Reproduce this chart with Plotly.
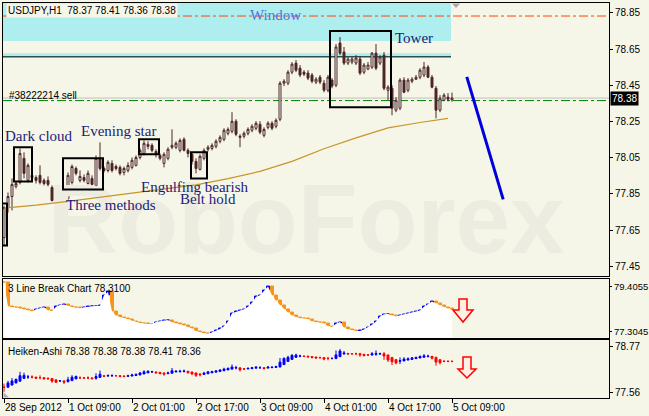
import plotly.graph_objects as go

# ---------------- data ----------------
tick_bars = [0, 16, 32, 48, 64, 80, 96, 112]
tick_labels = ["28 Sep 2012", "1 Oct 09:00", "2 Oct 01:00", "2 Oct 17:00",
               "3 Oct 09:00", "4 Oct 01:00", "4 Oct 17:00", "5 Oct 09:00"]
price_ticks = [78.85, 78.65, 78.45, 78.25, 78.05, 77.85, 77.65, 77.45]
lb_ticks = [79.4055, 77.3045]
ha_ticks = [78.77, 77.56]

opens = [77.609, 77.775, 77.836, 77.892, 77.914, 78.047, 77.925, 77.953, 77.941, 77.953,
         77.925, 77.925, 77.886, 77.831, 77.864, 77.853, 77.825, 77.914, 77.991, 77.925,
         77.941, 77.908, 77.936, 77.897, 78.047, 77.991, 77.980, 78.019, 78.002, 77.997,
         77.969, 77.980, 77.997, 78.008, 78.052, 78.074, 78.113, 78.119, 78.085, 78.063,
         78.019, 78.047, 78.108, 78.108, 78.091, 78.152, 78.091, 78.069, 78.030, 77.986,
         78.047, 78.097, 78.102, 78.113, 78.141, 78.152, 78.185, 78.196, 78.252, 78.169,
         78.169, 78.185, 78.202, 78.213, 78.235, 78.174, 78.218, 78.241, 78.224, 78.263,
         78.462, 78.462, 78.523, 78.573, 78.545, 78.523, 78.518, 78.507, 78.468, 78.495,
         78.462, 78.423, 78.479, 78.451, 78.684, 78.634, 78.573, 78.579, 78.573, 78.595,
         78.523, 78.540, 78.551, 78.628, 78.573, 78.617, 78.423, 78.434, 78.313, 78.324,
         78.479, 78.423, 78.473, 78.484, 78.495, 78.507, 78.551, 78.495, 78.434, 78.313,
         78.368, 78.385, 78.370]
highs = [77.786, 77.858, 77.936, 77.919, 78.102, 78.080, 78.019, 78.008, 77.953, 78.008,
         77.936, 77.947, 77.897, 77.842, 77.880, 77.869, 77.969, 78.013, 78.002, 77.980,
         77.958, 77.980, 77.953, 78.063, 78.135, 78.002, 78.036, 78.036, 78.013, 78.008,
         78.002, 78.025, 78.052, 78.063, 78.102, 78.146, 78.141, 78.130, 78.097, 78.074,
         78.080, 78.108, 78.207, 78.141, 78.157, 78.163, 78.102, 78.080, 78.047, 78.069,
         78.102, 78.119, 78.130, 78.152, 78.174, 78.213, 78.218, 78.302, 78.263, 78.180,
         78.196, 78.218, 78.235, 78.252, 78.252, 78.218, 78.252, 78.252, 78.268, 78.473,
         78.484, 78.534, 78.579, 78.590, 78.562, 78.534, 78.534, 78.518, 78.495, 78.507,
         78.479, 78.507, 78.490, 78.678, 78.717, 78.662, 78.606, 78.606, 78.617, 78.612,
         78.573, 78.579, 78.634, 78.678, 78.617, 78.634, 78.451, 78.451, 78.385, 78.490,
         78.495, 78.490, 78.495, 78.507, 78.545, 78.579, 78.562, 78.507, 78.446, 78.396,
         78.407, 78.407, 78.410]
lows = [77.565, 77.747, 77.759, 77.880, 77.903, 77.936, 77.914, 77.925, 77.908, 77.903,
        77.897, 77.892, 77.809, 77.803, 77.842, 77.775, 77.814, 77.903, 77.953, 77.914,
        77.914, 77.903, 77.892, 77.892, 77.980, 77.969, 77.969, 77.969, 77.980, 77.953,
        77.953, 77.969, 77.986, 78.002, 78.041, 78.063, 78.097, 78.080, 78.052, 78.036,
        77.997, 78.036, 78.097, 78.097, 78.080, 78.085, 78.052, 78.013, 77.964, 77.980,
        78.036, 78.085, 78.091, 78.102, 78.130, 78.141, 78.174, 78.185, 78.169, 78.108,
        78.157, 78.174, 78.191, 78.202, 78.180, 78.163, 78.207, 78.202, 78.213, 78.252,
        78.446, 78.451, 78.512, 78.523, 78.495, 78.501, 78.479, 78.462, 78.457, 78.457,
        78.412, 78.412, 78.434, 78.440, 78.617, 78.562, 78.562, 78.567, 78.562, 78.507,
        78.512, 78.534, 78.540, 78.534, 78.562, 78.423, 78.368, 78.285, 78.302, 78.313,
        78.407, 78.412, 78.462, 78.479, 78.484, 78.495, 78.490, 78.434, 78.268, 78.302,
        78.362, 78.362, 78.360]
closes = [77.775, 77.836, 77.903, 77.908, 78.074, 77.964, 78.008, 77.941, 77.925, 77.914,
          77.908, 77.903, 77.814, 77.814, 77.853, 77.803, 77.953, 78.002, 77.964, 77.947,
          77.925, 77.964, 77.903, 78.047, 77.991, 77.980, 78.025, 77.980, 77.991, 77.964,
          77.991, 78.008, 78.036, 78.052, 78.091, 78.130, 78.124, 78.091, 78.074, 78.047,
          78.069, 78.097, 78.119, 78.130, 78.146, 78.091, 78.074, 78.030, 77.991, 78.058,
          78.091, 78.108, 78.119, 78.141, 78.163, 78.202, 78.207, 78.252, 78.180, 78.163,
          78.185, 78.207, 78.224, 78.241, 78.191, 78.207, 78.241, 78.213, 78.257, 78.462,
          78.473, 78.523, 78.567, 78.534, 78.507, 78.512, 78.490, 78.473, 78.484, 78.468,
          78.423, 78.495, 78.446, 78.662, 78.628, 78.573, 78.595, 78.595, 78.601, 78.518,
          78.562, 78.562, 78.628, 78.545, 78.606, 78.434, 78.440, 78.324, 78.368, 78.479,
          78.412, 78.479, 78.484, 78.495, 78.534, 78.551, 78.495, 78.440, 78.313, 78.379,
          78.396, 78.374, 78.380]

ma_bars = [0, 8, 16, 24, 32, 40, 48, 56, 64, 72, 80, 88, 96, 104, 111]
ma_values = [77.772, 77.788, 77.809, 77.831, 77.857, 77.878, 77.900, 77.935, 77.975,
             78.030, 78.100, 78.160, 78.215, 78.245, 78.268]

lb_levels = [79.603, 78.462, 78.431, 78.401, 78.370, 78.325, 78.279, 78.233, 78.340, 78.385,
             78.431, 78.279, 78.248, 78.462, 78.538, 78.568, 78.492, 78.431, 78.401, 78.385,
             78.431, 78.462, 78.477, 78.492, 78.500, 78.994, 79.147, 78.233, 78.035, 77.974,
             77.929, 77.853, 77.792, 77.746, 77.700, 77.670, 77.655, 77.640, 77.746, 77.792,
             77.822, 77.830, 77.731, 77.685, 77.640, 77.579, 77.518, 77.442, 77.320, 77.274,
             77.213, 77.198, 77.274, 77.350, 77.426, 77.548, 77.776, 78.157, 78.233, 78.279,
             78.340, 78.462, 78.644, 78.918, 78.994, 79.223, 79.405, 78.994, 78.736, 78.538,
             78.340, 78.188, 78.035, 77.974, 77.929, 77.898, 77.883, 77.776, 77.731, 77.716,
             77.670, 77.548, 77.518, 77.670, 77.746, 77.472, 77.396, 77.365, 77.320, 77.335,
             77.396, 77.518, 77.624, 77.776, 78.005, 78.111, 78.120, 78.035, 78.005, 78.066,
             78.111, 78.157, 78.188, 78.248, 78.279, 78.462, 78.583, 78.705, 78.614, 78.522,
             78.431, 78.370, 78.310]

forecast_bars = [115.7, 124.8]
forecast_prices = [78.497, 77.82]

bars = list(range(len(closes)))

# Heiken-Ashi from the candles
ha_close = [(o + h + l + c) / 4 for o, h, l, c in zip(opens, highs, lows, closes)]
ha_open = [(opens[0] + closes[0]) / 2]
for i in range(1, len(bars)):
    ha_open.append((ha_open[i - 1] + ha_close[i - 1]) / 2)
ha_high = [max(h, o, c) for h, o, c in zip(highs, ha_open, ha_close)]
ha_low = [min(l, o, c) for l, o, c in zip(lows, ha_open, ha_close)]

# line break bricks
lb_base = [lb_levels[0]] + lb_levels[:-1]
lb_delta = [c - b for c, b in zip(lb_levels, lb_base)]
BLUE, ORANGE = "#0A0AEE", "#F7941D"
lb_colors = []
cur = ORANGE
for d in lb_delta:
    if d > 0:
        cur = BLUE
    elif d < 0:
        cur = ORANGE
    lb_colors.append(cur)

# ---------------- styling ----------------
BG = "#F6F6E8"
CANDLE = "#4B2626"
FONT = "Liberation Sans"
SERIF = "Liberation Serif"
NAVY = "#1C1C78"

W, H = 649, 416
L, R, T, B = 3, 40, 3, 18
PW, PH = W - L - R, H - T - B
xr = [-0.25, 151.25]


def P(px, py):
    return (px - L) / PW, (H - B - py) / PH


fig = go.Figure()

# watermark
fig.add_trace(go.Scatter(x=[75.5], y=[77.66], mode="text", text=["<b>RoboForex</b>"],
                         textfont=dict(family=FONT, size=98, color="#ECECE1"),
                         xaxis="x", yaxis="y", hoverinfo="skip", showlegend=False))
# moving average
fig.add_trace(go.Scatter(x=ma_bars, y=ma_values, mode="lines",
                         line=dict(color="#C8952A", width=1.2),
                         xaxis="x", yaxis="y", hoverinfo="skip", showlegend=False))
# candles
fig.add_trace(go.Candlestick(x=bars, open=opens, high=highs, low=lows, close=closes,
                             increasing=dict(line=dict(color=CANDLE, width=1), fillcolor="#FFFFFF"),
                             decreasing=dict(line=dict(color=CANDLE, width=1), fillcolor=CANDLE),
                             whiskerwidth=0, xaxis="x", yaxis="y",
                             hoverinfo="skip", showlegend=False))

# line break panel
fig.add_trace(go.Scatter(x=bars, y=lb_levels, mode="lines", fill="tozeroy",
                         fillcolor="#FFFFFF", line=dict(width=0),
                         xaxis="x2", yaxis="y2", hoverinfo="skip", showlegend=False))
fig.add_trace(go.Bar(x=bars, y=lb_delta, base=lb_base, width=0.75,
                     marker=dict(color=lb_colors, line=dict(color=lb_colors, width=1)),
                     xaxis="x2", yaxis="y2", hoverinfo="skip", showlegend=False))

# Heiken-Ashi panel
fig.add_trace(go.Candlestick(x=bars, open=ha_open, high=ha_high, low=ha_low, close=ha_close,
                             increasing=dict(line=dict(color="#0000FF", width=1), fillcolor="#0000FF"),
                             decreasing=dict(line=dict(color="#FF0000", width=1), fillcolor="#FF0000"),
                             whiskerwidth=0, xaxis="x3", yaxis="y3",
                             hoverinfo="skip", showlegend=False))

shapes = []
# window zone
shapes.append(dict(type="rect", xref="x", yref="y", x0=-0.25, x1=111.75, y0=78.695, y1=78.905,
                   fillcolor="#AFEEEE", line=dict(width=0), layer="below"))
shapes.append(dict(type="rect", xref="x", yref="y", x0=-0.25, x1=111.75, y0=78.612, y1=78.628,
                   fillcolor="#AFEEEE", line=dict(width=0), layer="below"))
shapes.append(dict(type="line", xref="x", yref="y", x0=-0.25, x1=111.75, y0=78.608, y1=78.608,
                   line=dict(color="#2F4F4F", width=1.5), layer="below"))
# horizontal levels
shapes.append(dict(type="line", xref="x", yref="y", x0=xr[0], x1=xr[1], y0=78.833, y1=78.833,
                   line=dict(color="#FF4500", width=1, dash="dashdot"), layer="below"))
shapes.append(dict(type="line", xref="x", yref="y", x0=xr[0], x1=xr[1], y0=78.38, y1=78.38,
                   line=dict(color="#C0C0C0", width=1), layer="below"))
shapes.append(dict(type="line", xref="x", yref="y", x0=xr[0], x1=xr[1], y0=78.366, y1=78.366,
                   line=dict(color="#008000", width=1, dash="dashdot"), layer="below"))
# pattern boxes
pattern_boxes = [(-0.9, 0.75, 77.565, 77.797), (2.5, 7.0, 77.919, 78.108),
                 (14.75, 24.75, 77.875, 78.047), (33.75, 38.75, 78.069, 78.152),
                 (46.75, 50.75, 77.936, 78.080), (81.5, 96.75, 78.329, 78.750)]
for x0, x1, y0, y1 in pattern_boxes:
    shapes.append(dict(type="rect", xref="x", yref="y", x0=x0, x1=x1, y0=y0, y1=y1,
                       line=dict(color="#000000", width=2), fillcolor="rgba(0,0,0,0)"))
# forecast
shapes.append(dict(type="line", xref="x", yref="y", x0=forecast_bars[0], x1=forecast_bars[1],
                   y0=forecast_prices[0], y1=forecast_prices[1],
                   line=dict(color="#0000DD", width=3)))


def path(points):
    s = "M " + " L ".join("%.5f,%.5f" % P(x, y) for x, y in points) + " Z"
    return s


shapes.append(dict(type="path", xref="paper", yref="paper",
                   path=path([(459, 299), (467, 299), (467, 310), (473, 310), (463, 322), (453, 310), (459, 310)]),
                   fillcolor="#FFF0E6", line=dict(color="#FF0000", width=1.5)))
shapes.append(dict(type="path", xref="paper", yref="paper",
                   path=path([(463, 357), (471, 357), (471, 369), (476, 369), (467, 378), (458, 369), (463, 369)]),
                   fillcolor="#FFF0E6", line=dict(color="#FF0000", width=1.5)))
shapes.append(dict(type="path", xref="paper", yref="paper",
                   path=path([(452, 3.5), (460, 3.5), (456, 8)]),
                   fillcolor="#A8A8A8", line=dict(width=0)))
shapes.append(dict(type="path", xref="paper", yref="paper",
                   path=path([(3.5, 392), (3.5, 397.5), (9, 397.5)]),
                   fillcolor="#B0B0B0", line=dict(width=0)))

annotations = []


def txt(text, px, py, size=10, color="#000000", family=FONT, xanchor="left", bg=None):
    x, y = P(px, py)
    d = dict(text=text, x=x, y=y, xref="paper", yref="paper", xanchor=xanchor, yanchor="middle",
             showarrow=False, font=dict(family=family, size=size, color=color))
    if bg:
        d["bgcolor"] = bg
        d["borderpad"] = 1
    annotations.append(d)


txt("USDJPY,H1\u00a0 78.37 78.41 78.36 78.38", 6, 10.5, bg=BG)
txt("#38222214 sell", 7, 95)
txt("3 Line Break Chart 78.3100", 6, 288)
txt("Heiken-Ashi 78.38 78.38 78.38 78.41 78.36", 6, 351)
txt("Window", 275, 15, size=15, color="#5272E0", family=SERIF, xanchor="center")
txt("Tower", 414, 38, size=15, color=NAVY, family=SERIF, xanchor="center")
txt("Dark cloud", 39, 136, size=15, color=NAVY, family=SERIF, xanchor="center")
txt("Evening star", 118, 131, size=15, color=NAVY, family=SERIF, xanchor="center")
txt("Three methods", 111, 205, size=15, color=NAVY, family=SERIF, xanchor="center")
txt("Engulfing bearish", 195, 187, size=15, color=NAVY, family=SERIF, xanchor="center")
txt("Belt hold", 208, 199, size=15, color=NAVY, family=SERIF, xanchor="center")

annotations.append(dict(text="78.38", x=1, y=closes[-1], xref="paper", yref="y",
                        xanchor="left", yanchor="middle", xshift=1, showarrow=False,
                        bgcolor="#000000", borderpad=1,
                        font=dict(family=FONT, size=10, color="#FFFFFF")))

axis_common = dict(showline=True, mirror=True, linecolor="#000000", linewidth=1,
                   showgrid=False, zeroline=False)


def pdom(py_top, py_bot):
    return [P(0, py_bot)[1], P(0, py_top)[1]]


fig.update_layout(
    width=W, height=H, template="none",
    margin=dict(l=L, r=R, t=T, b=B, pad=0),
    paper_bgcolor=BG, plot_bgcolor=BG,
    showlegend=False, bargap=0,
    font=dict(family=FONT, size=10, color="#000000"),
    xaxis=dict(domain=[0, 1], anchor="y", range=xr, showticklabels=False, ticks="",
               rangeslider=dict(visible=False), **axis_common),
    xaxis2=dict(domain=[0, 1], anchor="y2", range=xr, matches="x", showticklabels=False,
                ticks="", **axis_common),
    xaxis3=dict(domain=[0, 1], anchor="y3", range=xr, matches="x",
                tickmode="array", tickvals=tick_bars, ticktext=tick_labels,
                ticks="outside", ticklen=4, tickcolor="#000000",
                ticklabelposition="outside right", automargin=False,
                tickfont=dict(family=FONT, size=10, color="#000000"),
                rangeslider=dict(visible=False), **axis_common),
    yaxis=dict(domain=pdom(3, 276), anchor="x", side="right", range=[77.397, 78.905],
               tickmode="array", tickvals=price_ticks, ticktext=["%.2f" % v for v in price_ticks],
               ticks="outside", ticklen=3, tickcolor="#000000", automargin=False,
               tickfont=dict(family=FONT, size=10, color="#000000"), **axis_common),
    yaxis2=dict(domain=pdom(278.5, 337.5), anchor="x2", side="right", range=[77.03, 79.771],
                tickmode="array", tickvals=lb_ticks, ticktext=["%.4f" % v for v in lb_ticks],
                ticks="outside", ticklen=2, tickcolor="#000000", automargin=False,
                tickfont=dict(family=FONT, size=9.5, color="#000000"), **axis_common),
    yaxis3=dict(domain=pdom(340, 398), anchor="x3", side="right", range=[77.399, 78.958],
                tickmode="array", tickvals=ha_ticks, ticktext=["%.2f" % v for v in ha_ticks],
                ticks="outside", ticklen=3, tickcolor="#000000", automargin=False,
                tickfont=dict(family=FONT, size=10, color="#000000"), **axis_common),
    shapes=shapes, annotations=annotations,
)

fig.write_html("out.html", config={"displayModeBar": False},
               post_script="document.body.style.margin='0';document.body.style.padding='0';"
                           "document.documentElement.style.margin='0';")
